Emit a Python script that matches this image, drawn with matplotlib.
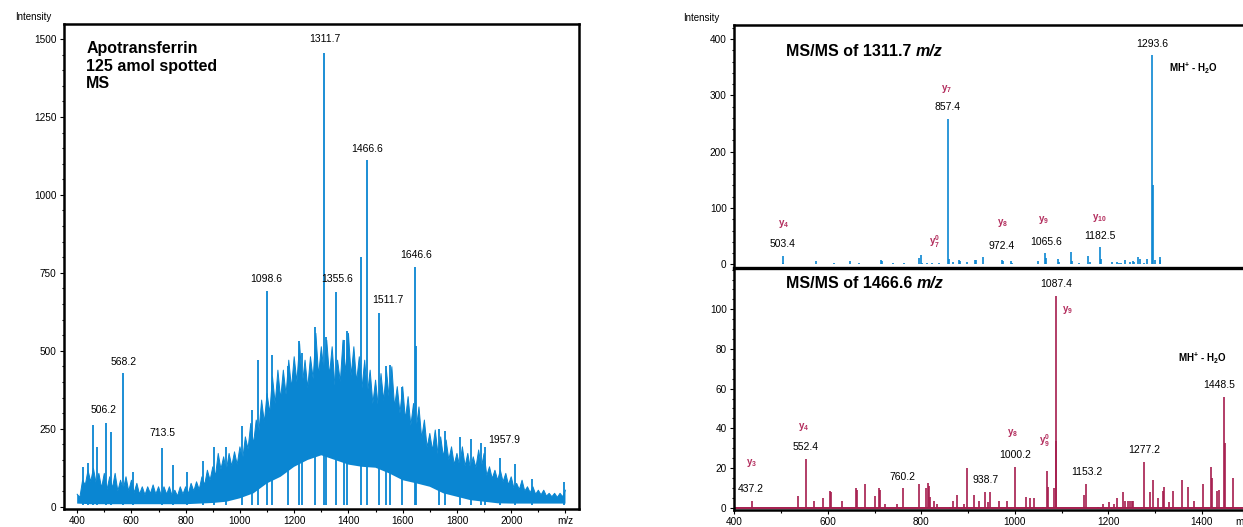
import numpy as np
import matplotlib.pyplot as plt
from matplotlib.ticker import MultipleLocator

plt.rcParams['font.family'] = ['Liberation Sans', 'DejaVu Sans']
plt.rcParams['mathtext.fontset'] = 'custom'
plt.rcParams['mathtext.rm'] = 'Liberation Sans'
plt.rcParams['mathtext.it'] = 'Liberation Sans:italic'
plt.rcParams['mathtext.bf'] = 'Liberation Sans:bold'

BLUE = '#0a86d2'
CRIMSON = '#a51d4e'
ION = '#b32d5d'

# ---- MS spectrum (left): dense background read as jagged top / bottom edge
# local highs of the noise band, every 20 m/z
ms_top_mz = list(range(400, 2201, 20))
ms_top = [40, 85, 117, 123, 107, 107, 96, 107, 85, 96,
          85, 75, 64, 64, 70, 64, 64, 64, 53, 64,
          64, 75, 80, 96, 117, 128, 171, 160, 171, 176,
          192, 224, 267, 278, 342, 363, 417, 438, 438, 470,
          481, 523, 470, 481, 556, 513, 534, 513, 470, 534,
          556, 513, 481, 470, 438, 406, 427, 438, 449, 385,
          385, 353, 331, 320, 278, 235, 246, 224, 214, 192,
          171, 192, 171, 160, 182, 171, 128, 117, 117, 107,
          96, 75, 85, 64, 64, 53, 53, 43, 43, 43,
          53]
# dips of the band top between those highs
ms_dip_mz = list(range(410, 2191, 20))
ms_dip = [30, 70, 80, 75, 60, 55, 60, 50, 55, 50,
          45, 40, 38, 42, 40, 36, 40, 35, 34, 40,
          42, 50, 55, 70, 85, 100, 120, 115, 130, 135,
          150, 185, 200, 240, 270, 300, 330, 345, 360, 380,
          400, 390, 380, 410, 420, 430, 420, 390, 400, 430,
          420, 400, 380, 360, 330, 320, 340, 350, 320, 300,
          280, 260, 250, 220, 190, 180, 170, 160, 150, 135,
          130, 130, 120, 125, 125, 100, 90, 85, 80, 70,
          60, 55, 50, 45, 40, 38, 34, 32, 30, 32]
ms_floor_mz = list(range(400, 2201, 50))
ms_floor = [10, 8, 8, 8, 8, 8, 8, 8, 8, 10,
            12, 16, 27, 43, 75, 96, 128, 150, 165, 150,
            135, 128, 125, 107, 85, 75, 64, 43, 32, 21,
            16, 11, 10, 10, 10, 10, 10]
# individual spikes standing out of the background
ms_spike_mz = [423, 440, 457, 474, 506.2, 523, 568.2, 607, 713.5, 753,
               804, 863, 904, 948, 1006, 1044, 1066, 1098.6, 1118, 1176,
               1217, 1228, 1277, 1311.7, 1318, 1355.6, 1384, 1396, 1448, 1466.6,
               1511.7, 1540, 1554, 1597, 1646.6, 1649, 1735, 1755, 1812, 1851,
               1887, 1904, 1958, 2014, 2078, 2196]
ms_spike_int = [128, 140, 262, 190, 268, 240, 430, 110, 188, 135,
                110, 145, 190, 190, 258, 310, 470, 692, 485, 450,
                532, 492, 575, 1455, 545, 688, 535, 563, 800, 1113,
                622, 452, 455, 385, 770, 515, 248, 243, 222, 216,
                205, 192, 155, 136, 90, 78]

# ---- MS/MS of 1311.7 (upper right)
msms1_mz = [503.4, 505, 575, 613.6, 647, 665.7, 714, 716, 739.8, 762.6,
            794, 799.6, 801, 813, 823, 838, 857.4, 859, 867.5, 879.6,
            882, 896.7, 915, 917, 932, 972.4, 974, 991.4, 994, 1050.6,
            1065.6, 1067, 1092, 1094.5, 1119.7, 1122, 1136.8, 1157.5, 1160, 1182.5,
            1184, 1208.8, 1219.5, 1222.5, 1228, 1236.7, 1247.4, 1253, 1255.6, 1264.5,
            1267, 1276.4, 1282.8, 1293.6, 1295, 1299, 1309.8, 1311.7]
msms1_int = [15, 3, 6, 1.5, 6, 1.5, 7, 5, 1.5, 1.5,
             10.6, 16, 2.4, 2, 2, 3, 258, 9.4, 4, 8,
             6.5, 4, 8, 7, 13.6, 7, 5, 5.3, 1.5, 6,
             19.5, 10.6, 8.8, 4.7, 21, 6, 2, 15, 4.7, 30,
             9, 3.5, 4, 3, 2, 7, 4.7, 6, 4.7, 12.4,
             9.4, 2, 9, 372, 140, 7.7, 12.4, 7]

# ---- MS/MS of 1466.6 (lower right)
msms2_mz = [437.2, 536.6, 552.4, 570.7, 590.7, 604, 606, 630, 660.5, 662,
            679.6, 700, 709, 711, 723, 747, 760.2, 795.7, 810, 814.8,
            817, 819.5, 826.7, 834, 861, 868.7, 876.7, 891, 897.3, 913,
            922.7, 937, 942.6, 948, 966.4, 983, 1000.2, 1023.6, 1031.7, 1041,
            1059.5, 1069, 1072, 1083, 1087.4, 1088.5, 1147, 1153.2, 1177, 1188,
            1202, 1212, 1218, 1232, 1236.7, 1242, 1246, 1250, 1253, 1277.2,
            1290, 1294.6, 1305.8, 1316, 1320, 1329.7, 1337.6, 1358.3, 1371, 1383.6,
            1402.7, 1420, 1422.6, 1433, 1436, 1448.5, 1449.6, 1466]
msms2_int = [3.5, 5.9, 24.5, 3.5, 4.9, 8.6, 8.0, 3.5, 9.7, 9,
             11.9, 5.9, 9.7, 9, 1.7, 1.7, 9.7, 11.9, 9.7, 12.6,
             11, 5.5, 3.5, 1.7, 0.5, 3.5, 6.4, 1.7, 19.8, 6.4,
             3.5, 7.7, 2.9, 7.7, 3.5, 3.5, 20.7, 5.5, 4.9, 4.9,
             0.5, 18.7, 10.6, 9.7, 106.7, 33.6, 6.4, 11.9, 0.5, 1.7,
             2.9, 1.7, 4.9, 7.7, 3.5, 3.5, 3.5, 3.5, 3.5, 23,
             7.7, 14, 4.9, 8.6, 10.6, 2.9, 8.6, 14, 10.6, 3.5,
             11.9, 20.7, 14.8, 8.6, 9, 56, 32.4, 14.8]

W, H = 1243, 527
fig = plt.figure(figsize=(W / 100, H / 100), dpi=100)


def px_rect(left, top, right, bottom):
    return [left / W, 1 - bottom / H, (right - left) / W, (bottom - top) / H]


def style(a):
    for s in a.spines.values():
        s.set_linewidth(1.8)
    a.tick_params(which='both', direction='out', labelsize=7.2, width=0.8, pad=2)
    a.tick_params(which='major', length=3)
    a.tick_params(which='minor', length=1.8)


ax = fig.add_axes(px_rect(63.6, 24.3, 579.3, 509.3))
ax_top = fig.add_axes(px_rect(733.6, 25, 1342, 268))
ax_bot = fig.add_axes(px_rect(733.6, 268, 1342, 510))

# ---------------- left: MS
style(ax)
# band top edge: highs and dips interleaved
edge_x, edge_y = [], []
for i, x in enumerate(ms_top_mz):
    edge_x.append(x)
    edge_y.append(ms_top[i])
    if i < len(ms_dip_mz):
        edge_x.append(ms_dip_mz[i])
        edge_y.append(ms_dip[i])
xs = np.concatenate([edge_x, ms_floor_mz[::-1]])
ys = np.concatenate([edge_y, ms_floor[::-1]])
ax.fill(xs, ys, color=BLUE, lw=0)
ax.plot(edge_x, edge_y, color=BLUE, lw=0.7)
ax.vlines(ms_spike_mz, 5, ms_spike_int, color=BLUE, lw=1.3)
ax.set_xlim(350, 2251)
ax.set_ylim(-8.3, 1547)
ax.set_xticks(list(range(400, 2001, 200)) + [2200],
              [str(v) for v in range(400, 2001, 200)] + ['m/z'])
ax.xaxis.set_minor_locator(MultipleLocator(100))
ax.yaxis.set_major_locator(MultipleLocator(250))
ax.yaxis.set_minor_locator(MultipleLocator(50))

ax.text(433, 1492, 'Apotransferrin\n125 amol spotted\nMS', fontsize=11.5,
        fontweight='bold', va='top', ha='left', linespacing=1.2)
for s, x, y in [('1311.7', 1311.7, 1500), ('1466.6', 1470, 1148),
                ('1646.6', 1650, 807), ('1098.6', 1097, 729),
                ('1355.6', 1358, 729), ('1511.7', 1545, 662),
                ('568.2', 570, 463), ('506.2', 499, 310),
                ('713.5', 716, 235), ('1957.9', 1976, 213)]:
    ax.text(x, y, s, fontsize=7.5, ha='center', va='center')

# ---------------- upper right: MS/MS 1311.7
style(ax_top)
ax_top.spines['bottom'].set_visible(False)
ax_top.vlines(msms1_mz, 0, msms1_int, color=BLUE, lw=1.2)
ax_top.set_xlim(398.4, 1700)
ax_top.set_ylim(-6.6, 425)
ax_top.tick_params(axis='x', which='both', bottom=False, labelbottom=False)
ax_top.yaxis.set_major_locator(MultipleLocator(100))
ax_top.yaxis.set_minor_locator(MultipleLocator(20))

t1 = ax_top.text(511, 377.5, 'MS/MS of 1311.7', fontsize=11.5, fontweight='bold',
                 ha='left', va='center')
ax_top.annotate('m/z', xy=(1, 0), xycoords=t1, xytext=(3.2, 0),
                textcoords='offset points', ha='left', va='bottom',
                fontsize=11.5, fontweight='bold', fontstyle='italic')
ax_top.text(1330, 347, r'MH$^\mathbf{+}$ - H$_\mathbf{2}$O', fontsize=7,
            fontweight='bold', ha='left', va='center')
for s, x, y in [('1293.6', 1293, 392), ('857.4', 857, 279), ('503.4', 503, 35.5),
                ('972.4', 972, 33), ('1065.6', 1066, 39), ('1182.5', 1183, 49.7)]:
    ax_top.text(x, y, s, fontsize=7.5, ha='center', va='center')
for s, x, y in [(r'y$_\mathbf{7}$', 854, 312), (r'y$_\mathbf{4}$', 506, 71.6),
                (r'y$_\mathbf{7}^\mathbf{0}$', 829, 40), (r'y$_\mathbf{8}$', 974, 72.8),
                (r'y$_\mathbf{9}$', 1062, 78.7), (r'y$_\mathbf{10}$', 1181.5, 82)]:
    ax_top.text(x, y, s, fontsize=7, fontweight='bold', color=ION,
                ha='center', va='center')

# ---------------- lower right: MS/MS 1466.6
style(ax_bot)
ax_bot.spines['top'].set_linewidth(2.4)
ax_bot.plot([398.4, 1700], [0, 0], color=CRIMSON, lw=1.4)
ax_bot.vlines(msms2_mz, 0, msms2_int, color=CRIMSON, lw=1.2)
ax_bot.set_xlim(398.4, 1700)
ax_bot.set_ylim(-1.2, 120.8)
ax_bot.set_xticks(list(range(400, 1401, 200)) + [1488],
                  [str(v) for v in range(400, 1401, 200)] + ['m/z'])
ax_bot.xaxis.set_minor_locator(MultipleLocator(100))
ax_bot.set_yticks(range(0, 101, 20))
ax_bot.yaxis.set_minor_locator(MultipleLocator(5))

t2 = ax_bot.text(511, 113, 'MS/MS of 1466.6', fontsize=11.5, fontweight='bold',
                 ha='left', va='center')
ax_bot.annotate('m/z', xy=(1, 0), xycoords=t2, xytext=(3.2, 0),
                textcoords='offset points', ha='left', va='bottom',
                fontsize=11.5, fontweight='bold', fontstyle='italic')
ax_bot.text(1350, 75, r'MH$^\mathbf{+}$ - H$_\mathbf{2}$O', fontsize=7,
            fontweight='bold', ha='left', va='center')
for s, x, y in [('1087.4', 1089, 112.6), ('1448.5', 1437, 61.8), ('552.4', 552.6, 30.4),
                ('437.2', 436, 9.2), ('760.2', 760, 15.6), ('938.7', 938, 14),
                ('1000.2', 1000, 26.6), ('1153.2', 1154, 18), ('1277.2', 1277, 29)]:
    ax_bot.text(x, y, s, fontsize=7.5, ha='center', va='center')
for s, x, y in [(r'y$_\mathbf{9}$', 1113, 99.7), (r'y$_\mathbf{4}$', 549, 40.8),
                (r'y$_\mathbf{3}$', 436, 22.4), (r'y$_\mathbf{8}$', 996, 37.5),
                (r'y$_\mathbf{9}^\mathbf{0}$', 1064, 34)]:
    ax_bot.text(x, y, s, fontsize=7, fontweight='bold', color=ION,
                ha='center', va='center')

fig.text(32.8 / W, 1 - 17.5 / H, 'Intensity', fontsize=7, ha='center', va='center')
fig.text(701.5 / W, 1 - 18.3 / H, 'Intensity', fontsize=7, ha='center', va='center')

fig.savefig('out.png', dpi=100)
